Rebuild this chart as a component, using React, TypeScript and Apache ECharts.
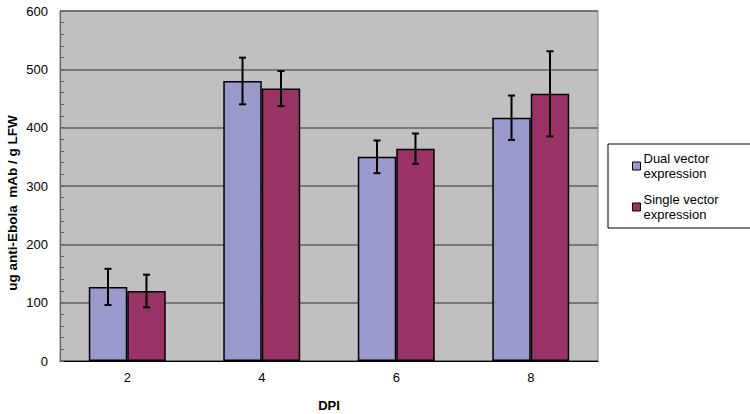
import React, { useEffect, useRef } from "react";
import * as echarts from "echarts";

const categories = ["2", "4", "6", "8"];
const dualValues = [127, 480, 350, 417];
const dualErrors = [31, 40, 28, 38];
const singleValues = [120, 467, 364, 458];
const singleErrors = [28, 30, 26, 73];
const seriesNames = ["Dual vector\nexpression", "Single vector\nexpression"];
const yTitle = "ug anti-Ebola  mAb / g LFW";

const FONT = "'Liberation Sans', Arial, sans-serif";
const BAR_FRAC = 0.286;

function errorSeries(values: number[], errs: number[], side: number) {
  return {
    type: "custom",
    silent: true,
    z: 10,
    data: values.map((v, i) => [i, v - errs[i], v + errs[i]]),
    renderItem: (params: any, api: any) => {
      const i = api.value(0);
      const lo = api.coord([i, api.value(1)]);
      const hi = api.coord([i, api.value(2)]);
      const band = api.size([1, 0])[0];
      const x = lo[0] + side * band * BAR_FRAC / 2;
      const cap = 3.5;
      const style = { stroke: "#000", lineWidth: 2 };
      return {
        type: "group",
        children: [
          { type: "line", shape: { x1: x, y1: lo[1], x2: x, y2: hi[1] }, style },
          { type: "line", shape: { x1: x - cap, y1: lo[1], x2: x + cap, y2: lo[1] }, style },
          { type: "line", shape: { x1: x - cap, y1: hi[1], x2: x + cap, y2: hi[1] }, style },
        ],
      };
    },
  };
}

export default function App() {
  const ref = useRef<HTMLDivElement>(null);
  useEffect(() => {
    if (!ref.current) return;
    const chart = echarts.init(ref.current, null, { renderer: "svg" });
    chart.setOption({
      animation: false,
      backgroundColor: "#ffffff",
      textStyle: { fontFamily: FONT },
      grid: {
        left: 60,
        top: 11,
        right: 152,
        bottom: 53,
        outerBoundsMode: "none",
        show: true,
        backgroundColor: "#C0C0C0",
        borderColor: "#808080",
        borderWidth: 1,
      },
      graphic: [
        {
          type: "text",
          x: 12,
          y: 203,
          rotation: Math.PI / 2,
          style: {
            text: yTitle,
            fontFamily: FONT,
            fontSize: 13.5,
            fontWeight: "bold",
            fill: "#000",
            textAlign: "center",
            textVerticalAlign: "middle",
          },
        },
      ],
      legend: {
        orient: "vertical",
        left: 608,
        top: 144,
        padding: [7, 37, 6, 24],
        itemGap: 11,
        itemWidth: 8,
        itemHeight: 8,
        borderColor: "#000",
        borderWidth: 1,
        backgroundColor: "#fff",
        icon: "rect",
        itemStyle: { borderColor: "#000", borderWidth: 1 },
        textStyle: { fontFamily: FONT, fontSize: 13, color: "#000", lineHeight: 15, padding: [0, 0, 0, -2] },
        data: seriesNames,
      },
      xAxis: {
        type: "category",
        data: categories,
        name: "DPI",
        nameLocation: "middle",
        nameGap: 38,
        nameTextStyle: { fontFamily: FONT, fontSize: 13, fontWeight: "bold", color: "#000" },
        axisLine: { lineStyle: { color: "#000", width: 1 } },
        axisTick: { show: false },
        axisLabel: { fontFamily: FONT, fontSize: 13, color: "#000", margin: 10 },
      },
      yAxis: {
        type: "value",
        min: 0,
        max: 600,
        interval: 100,
        axisLine: { show: true, lineStyle: { color: "#606060" } },
        axisTick: { show: true, inside: true, length: 4, lineStyle: { color: "#606060" } },
        minorTick: { show: true, splitNumber: 5, length: 4, lineStyle: { color: "#606060" } },
        axisLabel: { fontFamily: FONT, fontSize: 13, color: "#000", margin: 12 },
        splitLine: { show: true, lineStyle: { color: "#606060", width: 1.5 } },
      },
      series: [
        {
          name: seriesNames[0],
          type: "bar",
          data: dualValues,
          barWidth: (BAR_FRAC * 100) + "%",
          barGap: "0%",
          itemStyle: { color: "#9999CC", borderColor: "#000", borderWidth: 1.5 },
        },
        {
          name: seriesNames[1],
          type: "bar",
          data: singleValues,
          barWidth: (BAR_FRAC * 100) + "%",
          barGap: "0%",
          itemStyle: { color: "#993366", borderColor: "#000", borderWidth: 1.5 },
        },
        errorSeries(dualValues, dualErrors, -1),
        errorSeries(singleValues, singleErrors, 1),
      ],
    });
    return () => chart.dispose();
  }, []);
  return <div ref={ref} style={{ width: 750, height: 414, position: "absolute", left: 0, top: 0 }} />;
}
